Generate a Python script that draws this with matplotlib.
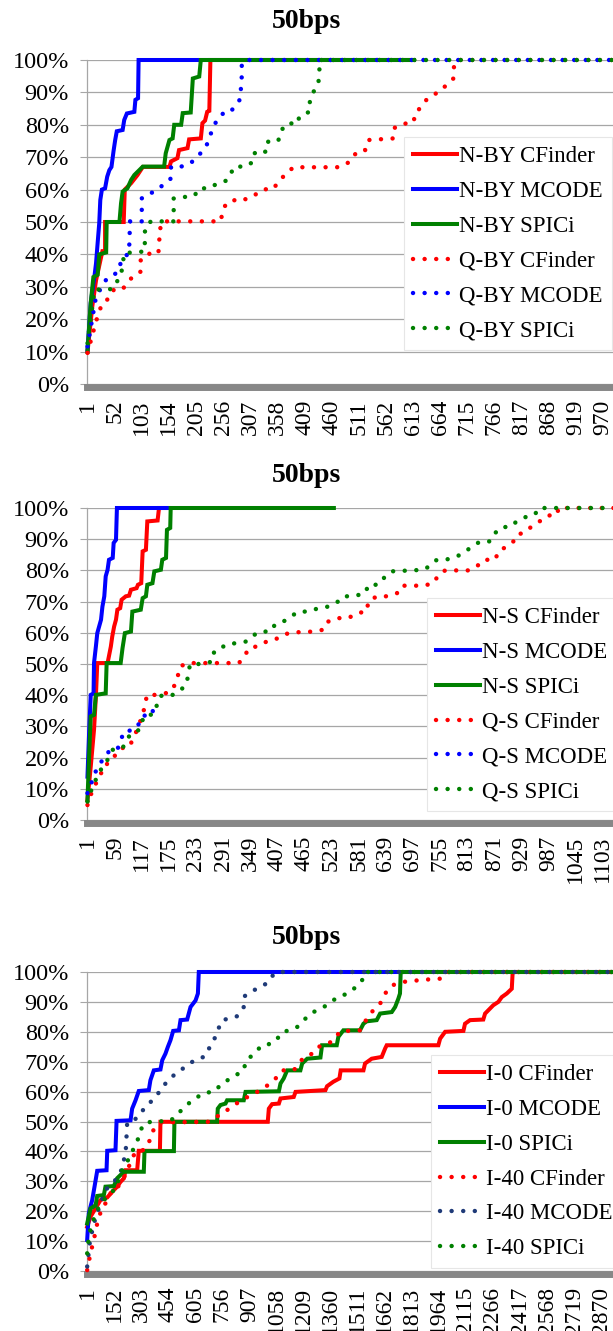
import matplotlib
matplotlib.use("Agg")
import matplotlib.pyplot as plt

plt.rcParams['font.family'] = ['Liberation Serif', 'DejaVu Serif']

# ---------- panel 1 : N-BY / Q-BY ----------
p1_ticks = [1, 52, 103, 154, 205, 256, 307, 358, 409, 460, 511, 562, 613, 664, 715, 766, 817, 868, 919, 970]
p1_labels = ["N-BY CFinder", "N-BY MCODE", "N-BY SPICi", "Q-BY CFinder", "Q-BY MCODE", "Q-BY SPICi"]

nby_cf_x = [1, 10, 17, 29, 34, 34, 69, 71, 83, 95, 105, 155, 158, 170, 173, 189, 192, 214, 217, 222, 226, 230, 232, 614]
nby_cf_y = [10, 24, 32, 41, 41, 50, 50, 60, 62, 64.5, 67, 67, 68.7, 69.7, 72.2, 72.8, 75.5, 75.8, 80.5, 81.3, 84, 84.3, 100, 100]
nby_mc_x = [1, 7, 14, 17, 20, 23, 25, 28, 34, 38, 42, 46, 50, 53, 56, 67, 70, 75, 89, 91, 96, 97, 614]
nby_mc_y = [10.6, 25, 33.2, 37.3, 43.5, 49.6, 56.8, 60, 60.4, 64, 66, 67, 72, 75.3, 78, 78.4, 81.5, 83.5, 84, 87.7, 88.2, 100, 100]
nby_sp_x = [1, 7, 12, 20, 23, 36, 37, 61, 64, 67, 76, 83, 89, 105, 145, 148, 155, 161, 164, 177, 180, 195, 199, 211, 214, 614]
nby_sp_y = [10, 25, 33, 33.7, 40, 40.6, 50, 50, 55.8, 59.4, 60.4, 63, 64.5, 67.1, 67.1, 71.2, 75.3, 75.8, 80, 80, 83.6, 83.8, 94.3, 94.9, 100, 100]

qby_cf_x = [1, 17, 23, 29, 42, 51, 67, 86, 101, 101, 113, 134, 136, 136, 142, 251, 255, 261, 268, 283, 300, 316, 332, 350,
            360, 372, 388, 470, 485, 498, 507, 523, 529, 576, 579, 595, 614, 617, 629, 639, 651, 667, 678, 689, 690, 695, 1000]
qby_cf_y = [9.6, 19.3, 22.4, 25, 26.5, 29.3, 29.3, 33.2, 34.7, 38.3, 40.2, 40.2, 43.5, 47.1, 50.2, 50.2, 52.9, 55.6, 55.8,
            57.3, 57, 58.4, 60.1, 60.1, 62.5, 64.5, 66.9, 66.9, 67.6, 69.2, 71.7, 72.2, 75.3, 75.8, 79.2, 80.3, 80.7, 83.6,
            85.6, 87.9, 89.2, 90.7, 92.8, 94.3, 97.9, 100, 100]
qby_mc_x = [1, 17, 36, 48, 61, 64, 79, 81, 103, 103, 117, 130, 145, 158, 158, 177, 195, 205, 217, 226, 232, 238, 246, 258,
            269, 288, 291, 291, 297, 1000]
qby_mc_y = [11.6, 27, 32.2, 33.2, 35.3, 38.3, 40.4, 50.2, 50.2, 57.3, 58.4, 60.1, 61.5, 63.5, 67.1, 67.1, 68.1, 70, 71.7,
            74.1, 76.9, 79.4, 82, 83.8, 83.8, 87.9, 95, 99, 100, 100]
qby_sp_x = [1, 14, 48, 64, 67, 70, 108, 109, 109, 120, 163, 163, 202, 211, 230, 246, 263, 269, 277, 299, 313, 316, 338,
            341, 360, 366, 376, 396, 399, 419, 419, 426, 435, 437, 437, 1000]
qby_sp_y = [12.6, 29.1, 29.3, 33.7, 36.8, 40.4, 40.9, 44.5, 48.1, 50.2, 50.2, 57.3, 58.1, 60.4, 60.4, 62, 62.8, 64.5, 67.1,
            67.1, 68.7, 71.7, 71.7, 75.1, 75.3, 78.4, 80.5, 80.3, 82.5, 84.1, 87.7, 90.2, 92.8, 96.4, 100, 100]

# ---------- panel 2 : N-S / Q-S ----------
p2_ticks = [1, 59, 117, 175, 233, 291, 349, 407, 465, 523, 581, 639, 697, 755, 813, 871, 929, 987, 1045, 1103]
p2_labels = ["N-S CFinder", "N-S MCODE", "N-S SPICi", "Q-S CFinder", "Q-S MCODE", "Q-S SPICi"]

ns_cf_x = [1, 8, 15, 19, 22, 44, 51, 54, 58, 62, 65, 71, 74, 83, 90, 94, 106, 109, 116, 119, 126, 129, 151, 154, 170]
ns_cf_y = [6.4, 17.1, 28.9, 39.6, 50.3, 50.3, 55.6, 58.8, 62, 64.2, 67.4, 67.9, 70.6, 71.7, 71.9, 73.8, 74.3, 75.4, 75.9,
           86.1, 86.6, 95.7, 96, 100, 100]
ns_mc_x = [1, 5, 8, 14, 15, 19, 22, 30, 33, 37, 40, 44, 47, 55, 57, 62, 64, 174]
ns_mc_y = [13.9, 29.9, 40.1, 40.6, 50.3, 55.6, 59.9, 64.2, 68.4, 71.7, 78.1, 80.2, 83.4, 84, 88.8, 89.8, 100, 100]
ns_sp_x = [1, 5, 8, 15, 19, 40, 42, 72, 76, 81, 94, 97, 115, 119, 126, 129, 140, 144, 158, 161, 169, 171, 178, 179, 528]
ns_sp_y = [6.4, 22.5, 33.2, 33.7, 40.1, 40.6, 50.3, 50.3, 55.1, 59.9, 60.4, 66.8, 67.4, 71.1, 71.7, 75.4, 75.9, 79.7,
           80.2, 83.4, 84, 93, 93.6, 100, 100]

qs_cf_x = [1, 8, 15, 26, 37, 47, 58, 72, 90, 104, 115, 124, 128, 151, 176, 186, 194, 199, 215, 325, 336, 347, 368, 384,
           402, 420, 438, 484, 506, 516, 534, 559, 577, 598, 602, 620, 641, 663, 673, 720, 741, 752, 766, 816, 834, 848,
           873, 880, 898, 912, 919, 937, 951, 968, 983, 1006, 1008, 1140]
qs_cf_y = [4.8, 8, 10.7, 13.4, 17.6, 18.2, 20.3, 23, 23.3, 27.8, 32.1, 36.4, 40.1, 40.1, 40.9, 42.8, 46, 49.2, 50.3, 50.3,
           52.4, 55.1, 55.8, 57.2, 57.8, 59.4, 60.1, 60.4, 61, 63.6, 64.7, 64.7, 66.3, 66.8, 70.1, 71.7, 71.7, 72.7, 75.1,
           75.1, 75.9, 78.6, 80, 80, 81.3, 83.4, 83.4, 86.1, 87.7, 89.3, 91.4, 92.2, 94.1, 95.7, 97.5, 97.9, 100, 100]
qs_mc_x = [1, 8, 15, 22, 40, 51, 65, 72, 78, 101, 112, 119, 140, 142]
qs_mc_y = [8.6, 11.2, 14.4, 16.6, 20.9, 22.5, 22.7, 25.1, 28.3, 28.9, 31, 33.4, 33.7, 37.4]
qs_sp_x = [1, 8, 15, 33, 44, 55, 76, 83, 94, 112, 122, 133, 147, 151, 161, 183, 201, 214, 216, 221, 247, 268, 272, 290,
           301, 316, 340, 354, 370, 392, 402, 420, 452, 474, 495, 516, 538, 548, 570, 595, 602, 623, 638, 652, 720, 737,
           748, 773, 794, 812, 841, 862, 873, 887, 905, 919, 941, 958, 966, 1140]
qs_sp_y = [5.9, 9.1, 11.8, 17.1, 19.3, 22.5, 23, 25.1, 27.8, 28.9, 33.4, 33.4, 34.8, 38.5, 40.1, 40.1, 41.7, 43.9, 47.1,
           50, 50, 50.8, 54, 55.6, 55.6, 56.7, 57.2, 59, 60.4, 60.4, 62.6, 63.6, 66.8, 66.8, 67.9, 68.4, 70.1, 71.7, 71.7,
           72.7, 75.4, 75.4, 78.1, 79.7, 80.2, 81.8, 83.4, 83.6, 84.7, 86.4, 89.3, 89.3, 92, 93.9, 93.9, 95.7, 97.3, 97.9,
           100, 100]

# ---------- panel 3 : I-0 / I-40 ----------
p3_ticks = [1, 152, 303, 454, 605, 756, 907, 1058, 1209, 1360, 1511, 1662, 1813, 1964, 2115, 2266, 2417, 2568, 2719, 2870]
p3_labels = ["I-0 CFinder", "I-0 MCODE", "I-0 SPICi", "I-40 CFinder", "I-40 MCODE", "I-40 SPICi"]

i0_cf_x = [1, 20, 75, 113, 141, 168, 187, 206, 215, 280, 289, 407, 410, 1009, 1015, 1033, 1071, 1080, 1154, 1164, 1331,
           1340, 1375, 1409, 1416, 1543, 1552, 1589, 1645, 1664, 1673, 1961, 1971, 1999, 2101, 2110, 2138, 2212, 2222,
           2268, 2296, 2315, 2343, 2371, 2376, 2960]
i0_cf_y = [14.8, 18.2, 23.7, 24.6, 26.5, 28.2, 29.8, 31, 33.7, 33.7, 40.2, 40.2, 49.9, 49.9, 54.3, 55.8, 56, 57.7, 58.2,
           59.9, 60.5, 61.8, 63.3, 64.4, 67.1, 67.1, 69.4, 71, 71.6, 74.4, 75.5, 75.5, 77.7, 80, 80.3, 82.7, 83.9, 84.1,
           86.1, 88.9, 90, 91.6, 92.8, 94.4, 100, 100]
i0_mc_x = [1, 10, 29, 42, 57, 109, 113, 159, 165, 243, 252, 271, 289, 345, 354, 373, 410, 420, 438, 451, 466, 481, 513,
           522, 559, 578, 606, 619, 624, 2960]
i0_mc_y = [10.4, 19.3, 23.7, 28.2, 33.5, 33.7, 40.2, 40.4, 50.2, 50.4, 54.3, 57.1, 60.2, 60.5, 63.8, 67.1, 67.4, 70.5,
           72.7, 74.9, 77.2, 80.3, 80.5, 83.9, 84.1, 88.3, 90.5, 92.8, 100, 100]
i0_sp_x = [1, 20, 48, 57, 94, 103, 150, 168, 206, 317, 321, 485, 488, 726, 730, 745, 773, 782, 875, 885, 1071, 1080, 1098,
           1117, 1191, 1201, 1229, 1303, 1312, 1394, 1403, 1431, 1524, 1543, 1561, 1617, 1636, 1701, 1720, 1738, 1747,
           1751, 2960]
i0_sp_y = [15.9, 20.9, 22, 25.1, 25.4, 28.2, 28.4, 31, 33.2, 33.2, 40.1, 40.1, 49.9, 49.9, 54.3, 55.5, 56, 57.1, 57.1,
           59.9, 60.1, 62.7, 64.4, 67.1, 67.1, 69.4, 71, 71.4, 75.5, 75.5, 78.3, 80.5, 80.5, 82.7, 83.5, 83.9, 86.1, 86.6,
           88.3, 91.1, 92.8, 100, 100]

i40_cf_x = [1, 10, 20, 35, 48, 57, 85, 103, 122, 141, 159, 187, 224, 243, 271, 308, 345, 354, 382, 414, 680, 782, 819,
            866, 912, 950, 1024, 1061, 1089, 1154, 1182, 1210, 1247, 1284, 1331, 1377, 1413, 1524, 1552, 1571, 1599,
            1636, 1664, 1701, 1766, 1878, 1980, 2017, 2960]
i40_cf_y = [0.3, 3.1, 5.9, 9.8, 13.1, 15.9, 21.5, 22.6, 24.8, 27.1, 27.1, 29.3, 33.2, 36.5, 39.9, 40.2, 42.4, 45.4, 48.2,
            49.7, 49.9, 53.8, 55.5, 57.1, 58.8, 59.9, 62.7, 64.9, 67.1, 67.1, 69.4, 71.4, 72.2, 74.9, 75.5, 77.2, 80.2,
            80.5, 83.3, 85.5, 87.2, 89.4, 92.8, 95.5, 96.7, 97.4, 97.8, 100, 100]
i40_mc_x = [1, 5, 16, 38, 66, 103, 150, 187, 196, 215, 221, 224, 261, 289, 336, 373, 410, 438, 485, 522, 559, 606, 652,
            661, 689, 730, 745, 792, 838, 875, 879, 916, 968, 1002, 1033, 1060, 2960]
i40_mc_y = [1.5, 3.7, 9.8, 15.9, 20.9, 27.1, 29.8, 32.6, 35.4, 38.8, 45.4, 49.3, 49.9, 52.7, 54.9, 58, 60.2, 62.7, 65.5,
            67.1, 68.8, 70.7, 71.6, 73.3, 74.9, 80, 83.3, 84.7, 85.2, 88.3, 91.9, 93.3, 95.2, 96.1, 98.6, 100, 100]
i40_sp_x = [1, 10, 23, 42, 66, 94, 131, 168, 178, 202, 224, 252, 299, 308, 354, 466, 531, 578, 652, 708, 754, 801, 875,
            885, 922, 968, 1005, 1043, 1089, 1117, 1173, 1247, 1322, 1357, 1394, 1441, 1478, 1506, 1534, 1552, 2960]
i40_sp_y = [5.9, 11.5, 14.8, 18.2, 21.5, 23.7, 25.9, 28.2, 31.5, 34.3, 36.5, 39.9, 46, 48.8, 49.9, 50.2, 54, 56.6, 59.6,
            59.9, 62.7, 64.4, 67.1, 69.9, 72.2, 74.9, 75.2, 77.7, 78.3, 80.5, 81.6, 86.1, 88.3, 89.7, 91.4, 92.5, 93.7,
            95.4, 97, 100, 100]

RED, BLUE, GREEN, NAVY = '#ff0000', '#0000ff', '#008000', '#1f3a78'
W, H = 613.0, 1331.0

fig = plt.figure(figsize=(W / 100, H / 100), dpi=100)
fig.patch.set_facecolor('white')

panels = [
    # px of 100%, px of 0%, visible x max, ticks, labels, series, legend left/top px, title px
    (60, 384, 989, p1_ticks, p1_labels,
     [(nby_cf_x, nby_cf_y, RED), (nby_mc_x, nby_mc_y, BLUE), (nby_sp_x, nby_sp_y, GREEN),
      (qby_cf_x, qby_cf_y, RED), (qby_mc_x, qby_mc_y, BLUE), (qby_sp_x, qby_sp_y, GREEN)], (404, 137), 22),
    (508, 820, 1125, p2_ticks, p2_labels,
     [(ns_cf_x, ns_cf_y, RED), (ns_mc_x, ns_mc_y, BLUE), (ns_sp_x, ns_sp_y, GREEN),
      (qs_cf_x, qs_cf_y, RED), (qs_mc_x, qs_mc_y, BLUE), (qs_sp_x, qs_sp_y, GREEN)], (427, 598), 476),
    (972, 1271, 2936, p3_ticks, p3_labels,
     [(i0_cf_x, i0_cf_y, RED), (i0_mc_x, i0_mc_y, BLUE), (i0_sp_x, i0_sp_y, GREEN),
      (i40_cf_x, i40_cf_y, RED), (i40_mc_x, i40_mc_y, NAVY), (i40_sp_x, i40_sp_y, GREEN)], (431, 1055), 938),
]

left_px = 87.0
for top, bot, xmax, ticks, labels, series, (lx, ly), ty in panels:
    ax = fig.add_axes([left_px / W, 1 - bot / H, (W - left_px) / W, (bot - top) / H])
    handles = []
    for i, (xs, ys, col) in enumerate(series):
        yv = [v / 100 for v in ys]
        if i < 3:
            ln, = ax.plot(xs, yv, color=col, lw=2.9, solid_joinstyle='miter', clip_on=False, zorder=3)
        else:
            ln, = ax.plot(xs, yv, color=col, lw=3.2, linestyle=(0, (0.01, 2.6)),
                          dash_capstyle='round', clip_on=False, zorder=3)
        handles.append(ln)

    ax.set_xlim(0, xmax)
    ax.set_ylim(0, 1)
    ax.set_yticks([i / 10 for i in range(11)])
    ax.set_yticklabels([f"{i * 10}%" for i in range(11)])
    ax.set_xticks(ticks)
    ax.set_xticklabels([str(t) for t in ticks])
    ax.yaxis.grid(True, color='#a6a6a6', lw=0.9)
    ax.set_axisbelow(True)
    ax.tick_params(axis='y', length=5, width=0.8, color='#a6a6a6', pad=8, labelsize=17.5)
    ax.tick_params(axis='x', length=0, pad=9, labelsize=17, labelrotation=90)
    for s in ['top', 'right']:
        ax.spines[s].set_visible(False)
    ax.spines['left'].set_color('#a6a6a6')
    ax.spines['left'].set_linewidth(0.9)
    ax.spines['bottom'].set_color('#878787')
    ax.spines['bottom'].set_linewidth(5)
    ax.spines['bottom'].set_position(('outward', 2.5))

    leg = ax.legend(handles, labels, loc='upper left', bbox_to_anchor=(lx / W, 1 - ly / H),
                    bbox_transform=fig.transFigure, borderaxespad=0, fontsize=16.5,
                    handlelength=1.9, handletextpad=0.1, labelspacing=0.6, borderpad=0.4,
                    fancybox=False, framealpha=1, edgecolor='#e6e6e6')
    leg.get_frame().set_linewidth(0.8)
    leg.set_zorder(5)

    fig.text(0.5, 1 - ty / H, "50bps", ha='center', va='center', fontsize=20, fontweight='bold')

fig.savefig('out.png', dpi=100)
